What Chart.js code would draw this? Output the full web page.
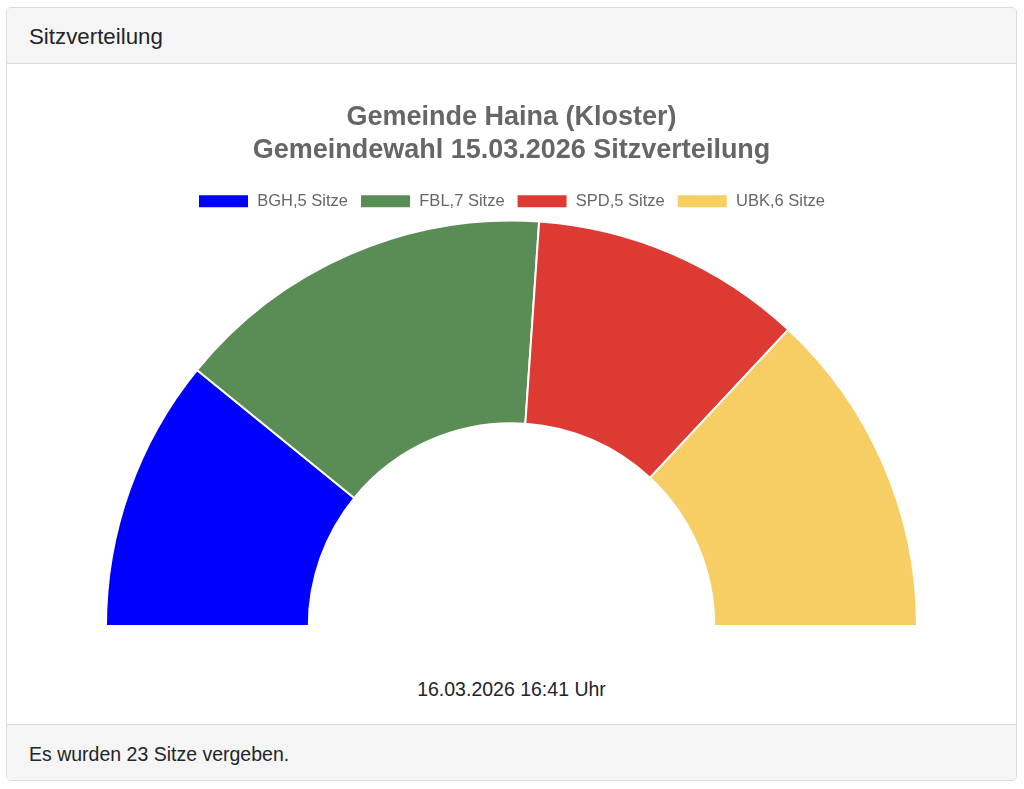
<!DOCTYPE html>
<html>
<head>
<meta charset="utf-8">
<script src="https://cdn.jsdelivr.net/npm/chart.js@4"></script>
<style>
  body { margin: 0; background: #fff; font-family: "Liberation Sans", Arial, sans-serif; color: #212529; }
  .card { position: absolute; left: 6px; top: 7px; width: 1009px; height: 772px; border: 1px solid #dcdcdc; border-radius: 5px; overflow: hidden; }
  .card-header { height: 55px; line-height: 58px; padding: 0 22px; background: #f5f5f5; border-bottom: 1px solid #dcdcdc; font-size: 22.3px; }
  .card-body { position: relative; height: 660px; }
  .chart-box { position: absolute; left: 20px; top: 24px; width: 969px; height: 539px; }
  .stamp { position: absolute; left: 0; right: 0; top: 614px; line-height: 22px; text-align: center; font-size: 19.5px; }
  .card-footer { position: absolute; left: 0; right: 0; bottom: 0; height: 55px; line-height: 58px; padding: 0 22px; background: #f5f5f5; border-top: 1px solid #dcdcdc; font-size: 19.5px; }
</style>
</head>
<body>
<div class="card">
  <div class="card-header">Sitzverteilung</div>
  <div class="card-body">
    <div class="chart-box"><canvas id="seats"></canvas></div>
    <div class="stamp">16.03.2026 16:41 Uhr</div>
  </div>
  <div class="card-footer">Es wurden 23 Sitze vergeben.</div>
</div>
<script>
// Parteien und Sitze
var parties = ["BGH", "FBL", "SPD", "UBK"];
var seats = [5, 7, 5, 6];
var colors = ["#0000ff", "#5a8c55", "#dc3a32", "#f6ce64"];

var labels = parties.map(function (p, i) {
    return p + "," + seats[i] + " Sitze";
});

var ctx = document.getElementById('seats').getContext('2d');
var myChart = new Chart(ctx, {
    type: 'doughnut',
    data: {
        labels: labels,
        datasets: [{
            data: seats,
            backgroundColor: colors,
            borderColor: '#ffffff',
            borderWidth: 2
        }]
    },
    options: {
        responsive: true,
        maintainAspectRatio: false,
        animation: false,
        rotation: -90,
        circumference: 180,
        cutout: '50%',
        plugins: {
            title: {
                display: true,
                text: ['Gemeinde Haina (Kloster)', 'Gemeindewahl 15.03.2026 Sitzverteilung'],
                color: '#666',
                font: { family: 'Liberation Sans', size: 27, weight: 'bold', lineHeight: 1.222 },
                padding: { top: 13, bottom: 14 }
            },
            legend: {
                position: 'top',
                labels: {
                    color: '#666',
                    boxWidth: 51,
                    boxHeight: 14,
                    padding: 12,
                    font: { family: 'Liberation Sans', size: 16.5 }
                }
            },
            tooltip: { enabled: false }
        }
    }
});
</script>
</body>
</html>
